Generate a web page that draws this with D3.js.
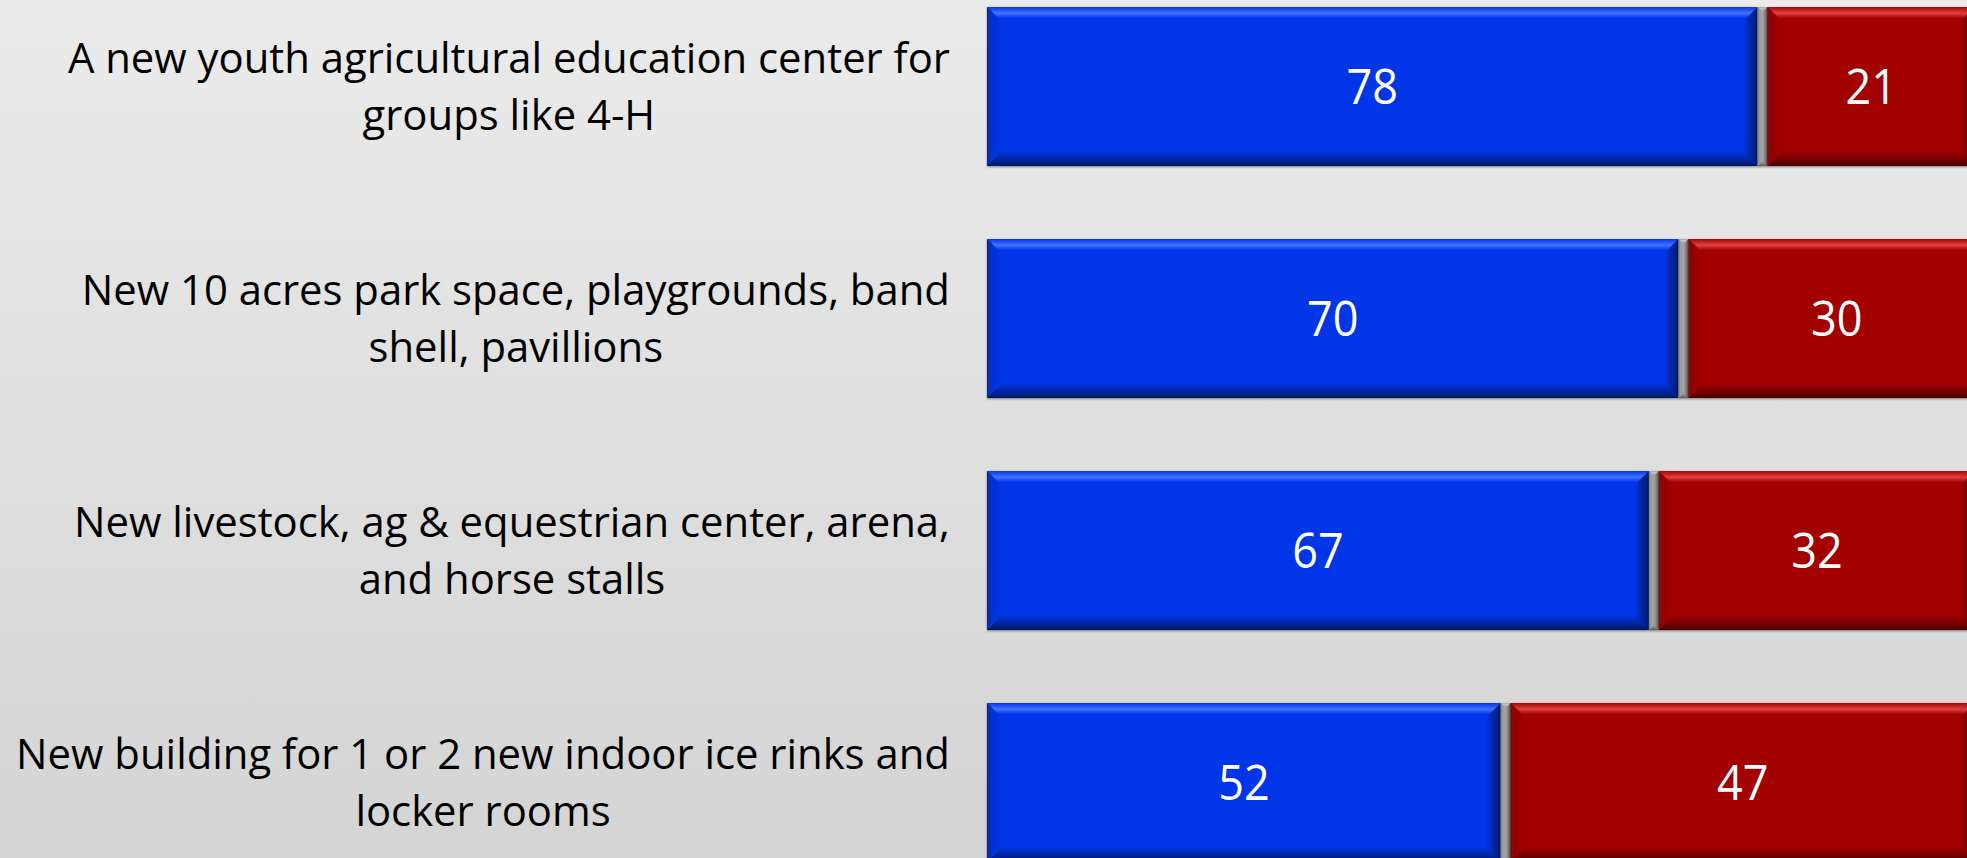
<!DOCTYPE html>
<html>
<head>
<meta charset="utf-8">
<script src="https://cdn.jsdelivr.net/npm/d3@7"></script>
<style>
  html, body { margin: 0; padding: 0; overflow: hidden; }
  svg { display: block; }
</style>
</head>
<body>
<svg id="chart" width="1967" height="858"></svg>
<script>
// ---- data ----
var categories = [
    "A new youth agricultural education center for\ngroups like 4-H",
    "New 10 acres park space, playgrounds, band\nshell, pavillions",
    "New livestock, ag & equestrian center, arena,\nand horse stalls",
    "New building for 1 or 2 new indoor ice rinks and\nlocker rooms"
];
var supportValues = [78, 70, 67, 52];
var unsureValues = [1, 1, 1, 1];
var opposeValues = [21, 30, 32, 47];

var W = 1967, H = 858;
var svg = d3.select("#chart");
var defs = svg.append("defs");

// background
var bg = defs.append("linearGradient").attr("id", "bg")
    .attr("x1", 0).attr("y1", 0).attr("x2", 0).attr("y2", 1);
bg.append("stop").attr("offset", "0%").attr("stop-color", "#ebebeb");
bg.append("stop").attr("offset", "100%").attr("stop-color", "#d4d4d4");
svg.append("rect").attr("width", W).attr("height", H).attr("fill", "url(#bg)");

var x = d3.scaleLinear().domain([0, 100]).range([987, 987 + 988]);
var pad = 0.315, step = 232;
var y = d3.scaleBand().domain(d3.range(categories.length))
    .range([7, 7 + step * (categories.length - pad)])
    .paddingInner(pad).paddingOuter(0);

var series = [
    {key: "support", values: supportValues, base: "#0536e8", light: "#4272ff", dark: "#0b2a8c", edge: "#041a66", side: "#0431d4", label: true},
    {key: "unsure", values: unsureValues, base: "#a4a4a4", light: "#c9c9c9", dark: "#7a7a7a", edge: "#5e5e5e", side: "#9a9a9a", label: false},
    {key: "oppose", values: opposeValues, base: "#a30404", light: "#de4040", dark: "#6e0b0b", edge: "#4e0606", side: "#960404", label: true}
];

// gradients for the bevels
series.forEach(function(s){
    var top = defs.append("linearGradient").attr("id", s.key + "-top")
        .attr("x1", 0).attr("y1", 0).attr("x2", 0).attr("y2", 1);
    top.append("stop").attr("offset", "0%").attr("stop-color", s.base);
    top.append("stop").attr("offset", "40%").attr("stop-color", s.light);
    top.append("stop").attr("offset", "75%").attr("stop-color", s.base);
    var bot = defs.append("linearGradient").attr("id", s.key + "-bot")
        .attr("x1", 0).attr("y1", 0).attr("x2", 0).attr("y2", 1);
    bot.append("stop").attr("offset", "0%").attr("stop-color", s.base);
    bot.append("stop").attr("offset", "100%").attr("stop-color", s.edge);
    var left = defs.append("linearGradient").attr("id", s.key + "-left")
        .attr("x1", 0).attr("y1", 0).attr("x2", 1).attr("y2", 0);
    left.append("stop").attr("offset", "0%").attr("stop-color", s.dark);
    left.append("stop").attr("offset", "30%").attr("stop-color", s.side);
    left.append("stop").attr("offset", "100%").attr("stop-color", s.base);
    var right = defs.append("linearGradient").attr("id", s.key + "-right")
        .attr("x1", 0).attr("y1", 0).attr("x2", 1).attr("y2", 0);
    right.append("stop").attr("offset", "0%").attr("stop-color", s.base);
    right.append("stop").attr("offset", "100%").attr("stop-color", s.edge);
});

var shadow = defs.append("filter").attr("id", "shadow")
    .attr("x", "-5%").attr("y", "-5%").attr("width", "110%").attr("height", "115%");
shadow.append("feDropShadow").attr("dx", 0).attr("dy", 1).attr("stdDeviation", 1.2)
    .attr("flood-color", "#000").attr("flood-opacity", 0.45);

function poly(pts){
    return pts.map(function(p){ return p[0] + "," + p[1]; }).join(" ");
}

function bevelBar(g, s, x0, x1, y0, y1){
    var b = Math.min(15, (x1 - x0) / 2, (y1 - y0) / 2);
    var bar = g.append("g").attr("filter", "url(#shadow)");
    bar.append("rect").attr("x", x0).attr("y", y0)
        .attr("width", x1 - x0).attr("height", y1 - y0).attr("fill", s.base);
    bar.append("polygon").attr("points", poly([[x0, y0], [x1, y0], [x1 - b, y0 + b], [x0 + b, y0 + b]]))
        .attr("fill", "url(#" + s.key + "-top)");
    bar.append("polygon").attr("points", poly([[x0, y1], [x1, y1], [x1 - b, y1 - b], [x0 + b, y1 - b]]))
        .attr("fill", "url(#" + s.key + "-bot)");
    bar.append("polygon").attr("points", poly([[x0, y0], [x0 + b, y0 + b], [x0 + b, y1 - b], [x0, y1]]))
        .attr("fill", "url(#" + s.key + "-left)");
    bar.append("polygon").attr("points", poly([[x1, y0], [x1 - b, y0 + b], [x1 - b, y1 - b], [x1, y1]]))
        .attr("fill", "url(#" + s.key + "-right)");
}

// stacked bars
var barsG = svg.append("g");
var valueFont = 50;
categories.forEach(function(c, i){
    var acc = 0;
    var y0 = y(i), y1 = y(i) + y.bandwidth();
    series.forEach(function(s){
        var v = s.values[i];
        var x0 = x(acc), x1 = x(acc + v);
        bevelBar(barsG, s, x0, x1, y0, y1);
        if(s.label){
            var cx = (x0 + x1) / 2;
            var cy = (y0 + y1) / 2 + valueFont * 0.36;
            barsG.append("text")
                .attr("transform", "translate(" + cx + "," + cy + ") scale(0.9,1)")
                .attr("text-anchor", "middle")
                .attr("font-family", "'Open Sans', sans-serif")
                .attr("font-size", valueFont)
                .attr("fill", "#ffffff")
                .text(v);
        }
        acc += v;
    });
});

// category labels: block right-aligned at 950, lines centered within the block
var labelFont = 42, lineH = 57, labelRight = 950;
var labelsG = svg.append("g");
var measure = labelsG.append("text")
    .attr("font-family", "'Open Sans', sans-serif").attr("font-size", labelFont)
    .text(categories[3].split("\n")[0]);
var sx = 934 / measure.node().getComputedTextLength();
measure.remove();

categories.forEach(function(c, i){
    var lines = c.split("\n");
    var cy = y(i) + y.bandwidth() / 2;
    var g = labelsG.append("g");
    var t = g.append("text")
        .attr("font-family", "'Open Sans', sans-serif")
        .attr("font-size", labelFont)
        .attr("fill", "#000000")
        .attr("text-anchor", "middle");
    lines.forEach(function(l, k){
        t.append("tspan").attr("x", 0)
            .attr("y", (k - (lines.length - 1) / 2) * lineH + labelFont * 0.36)
            .text(l);
    });
    var maxW = d3.max(t.selectAll("tspan").nodes(), function(n){ return n.getComputedTextLength(); }) * sx;
    g.attr("transform", "translate(" + (labelRight - maxW / 2) + "," + cy + ") scale(" + sx + ",1)");
});
</script>
</body>
</html>
